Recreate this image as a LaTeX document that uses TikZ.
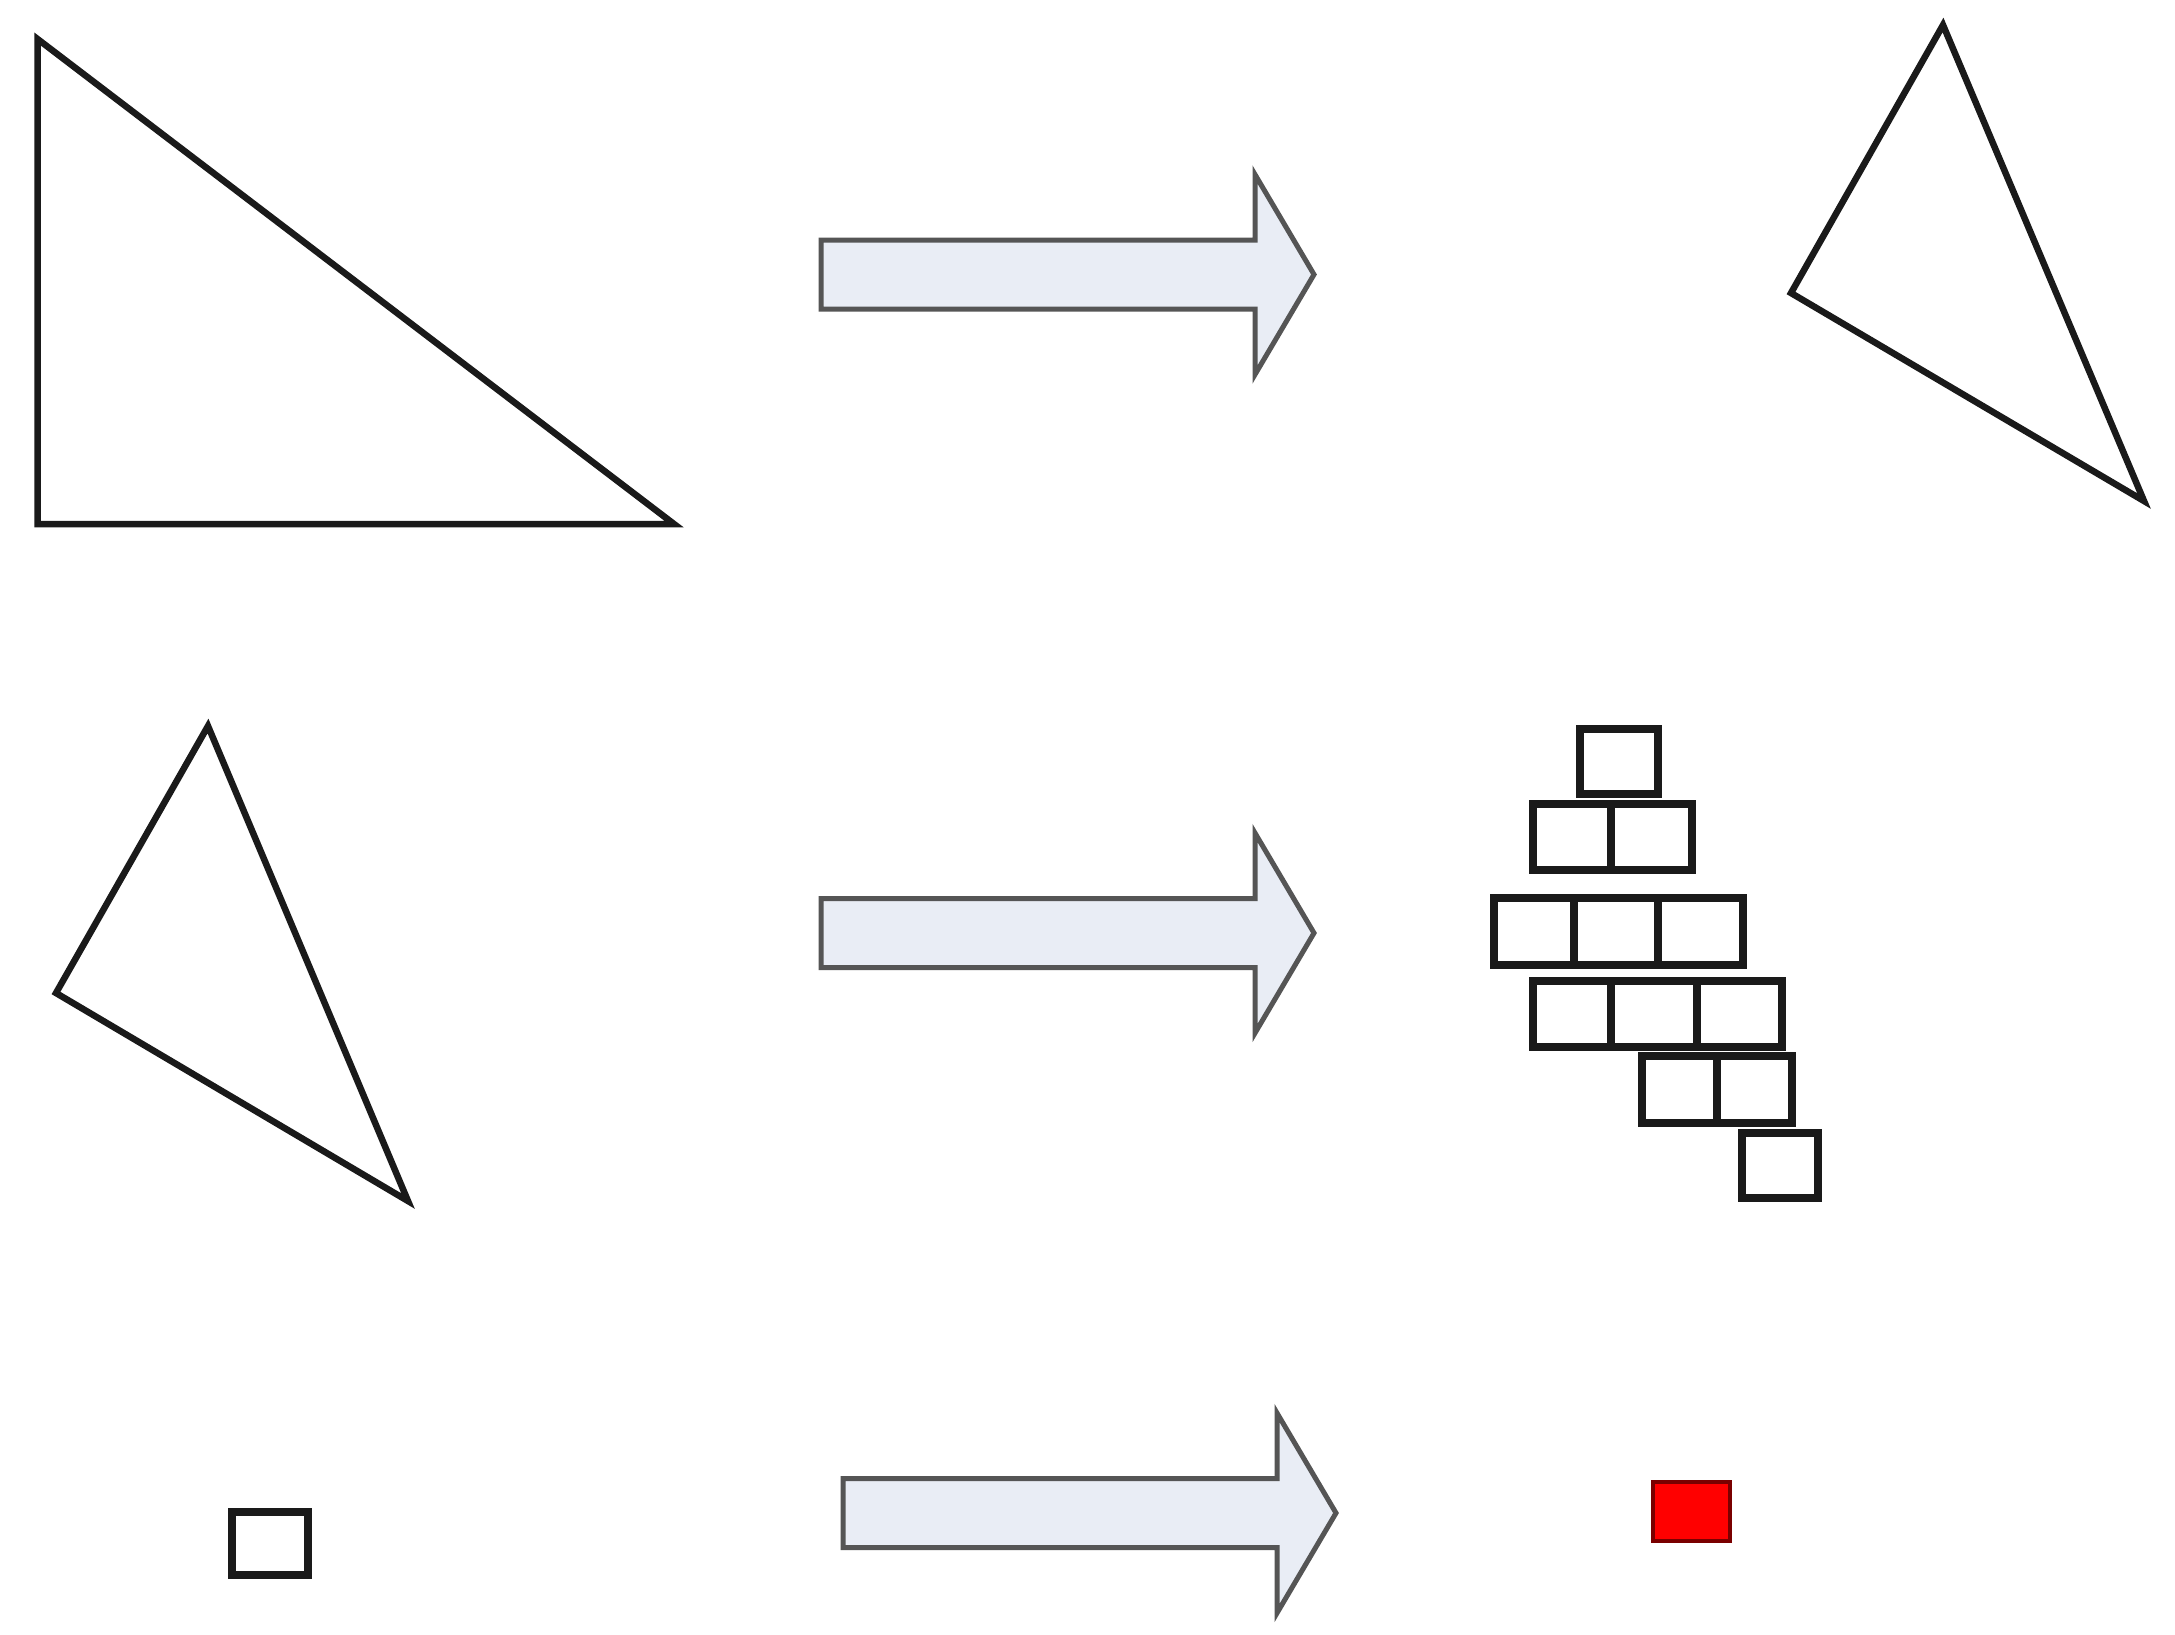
\documentclass[tikz,border=0pt]{standalone}
\definecolor{arrowfill}{HTML}{E9EDF5}
\definecolor{arrowedge}{HTML}{555555}
\definecolor{shapeedge}{HTML}{1A1A1A}
\definecolor{redfill}{HTML}{FF0000}
\definecolor{rededge}{HTML}{7A0000}
\tikzset{
  triline/.style={draw=shapeedge, line width=6.5pt, line join=miter},
  cellbox/.style={draw=shapeedge, line width=7.5pt},
  arrowline/.style={draw=arrowedge, fill=arrowfill, line width=5pt, line join=miter},
  fatarrow/.pic={\path[arrowline] (0,34.5) -- (434,34.5) -- (434,100) -- (493,0) -- (434,-100) -- (434,-34.5) -- (0,-34.5) -- cycle;}
}
\begin{document}
\begin{tikzpicture}[x=1pt,y=-1pt]
\useasboundingbox (0,0) rectangle (2175,1634);
\fill[white] (0,0) rectangle (2175,1634);
% triangle 1
\coordinate (t1a) at (37.5,39);
\coordinate (t1b) at (37.5,524);
\coordinate (t1c) at (674,524);
\draw[triline] (t1a) -- (t1b) -- (t1c) -- cycle;
% triangle 2
\coordinate (t2a) at (1943,25);
\coordinate (t2b) at (1791,293);
\coordinate (t2c) at (2144,501);
\draw[triline] (t2a) -- (t2b) -- (t2c) -- cycle;
% triangle 3
\coordinate (t3a) at (208,726);
\coordinate (t3b) at (56,993);
\coordinate (t3c) at (408,1201);
\draw[triline] (t3a) -- (t3b) -- (t3c) -- cycle;
% arrows
\pic at (821,274.5) {fatarrow};
\pic at (821,933) {fatarrow};
\pic at (843,1513) {fatarrow};
% small square
\draw[cellbox] (232,1512) rectangle (308,1575);
% red square
\draw[fill=redfill, draw=rededge, line width=3.5pt] (1653,1482) rectangle (1730,1541);
% grid of squares
\draw[cellbox] (1580,729) rectangle (1658,794);
\draw[cellbox] (1533,804) rectangle (1611,870);
\draw[cellbox] (1611,804) rectangle (1692,870);
\draw[cellbox] (1494,898) rectangle (1574,965);
\draw[cellbox] (1574,898) rectangle (1658,965);
\draw[cellbox] (1658,898) rectangle (1743,965);
\draw[cellbox] (1533,981) rectangle (1611,1047);
\draw[cellbox] (1611,981) rectangle (1697,1047);
\draw[cellbox] (1697,981) rectangle (1782,1047);
\draw[cellbox] (1642,1056) rectangle (1717,1123);
\draw[cellbox] (1717,1056) rectangle (1792,1123);
\draw[cellbox] (1742,1133) rectangle (1818,1198);
\end{tikzpicture}
\end{document}
